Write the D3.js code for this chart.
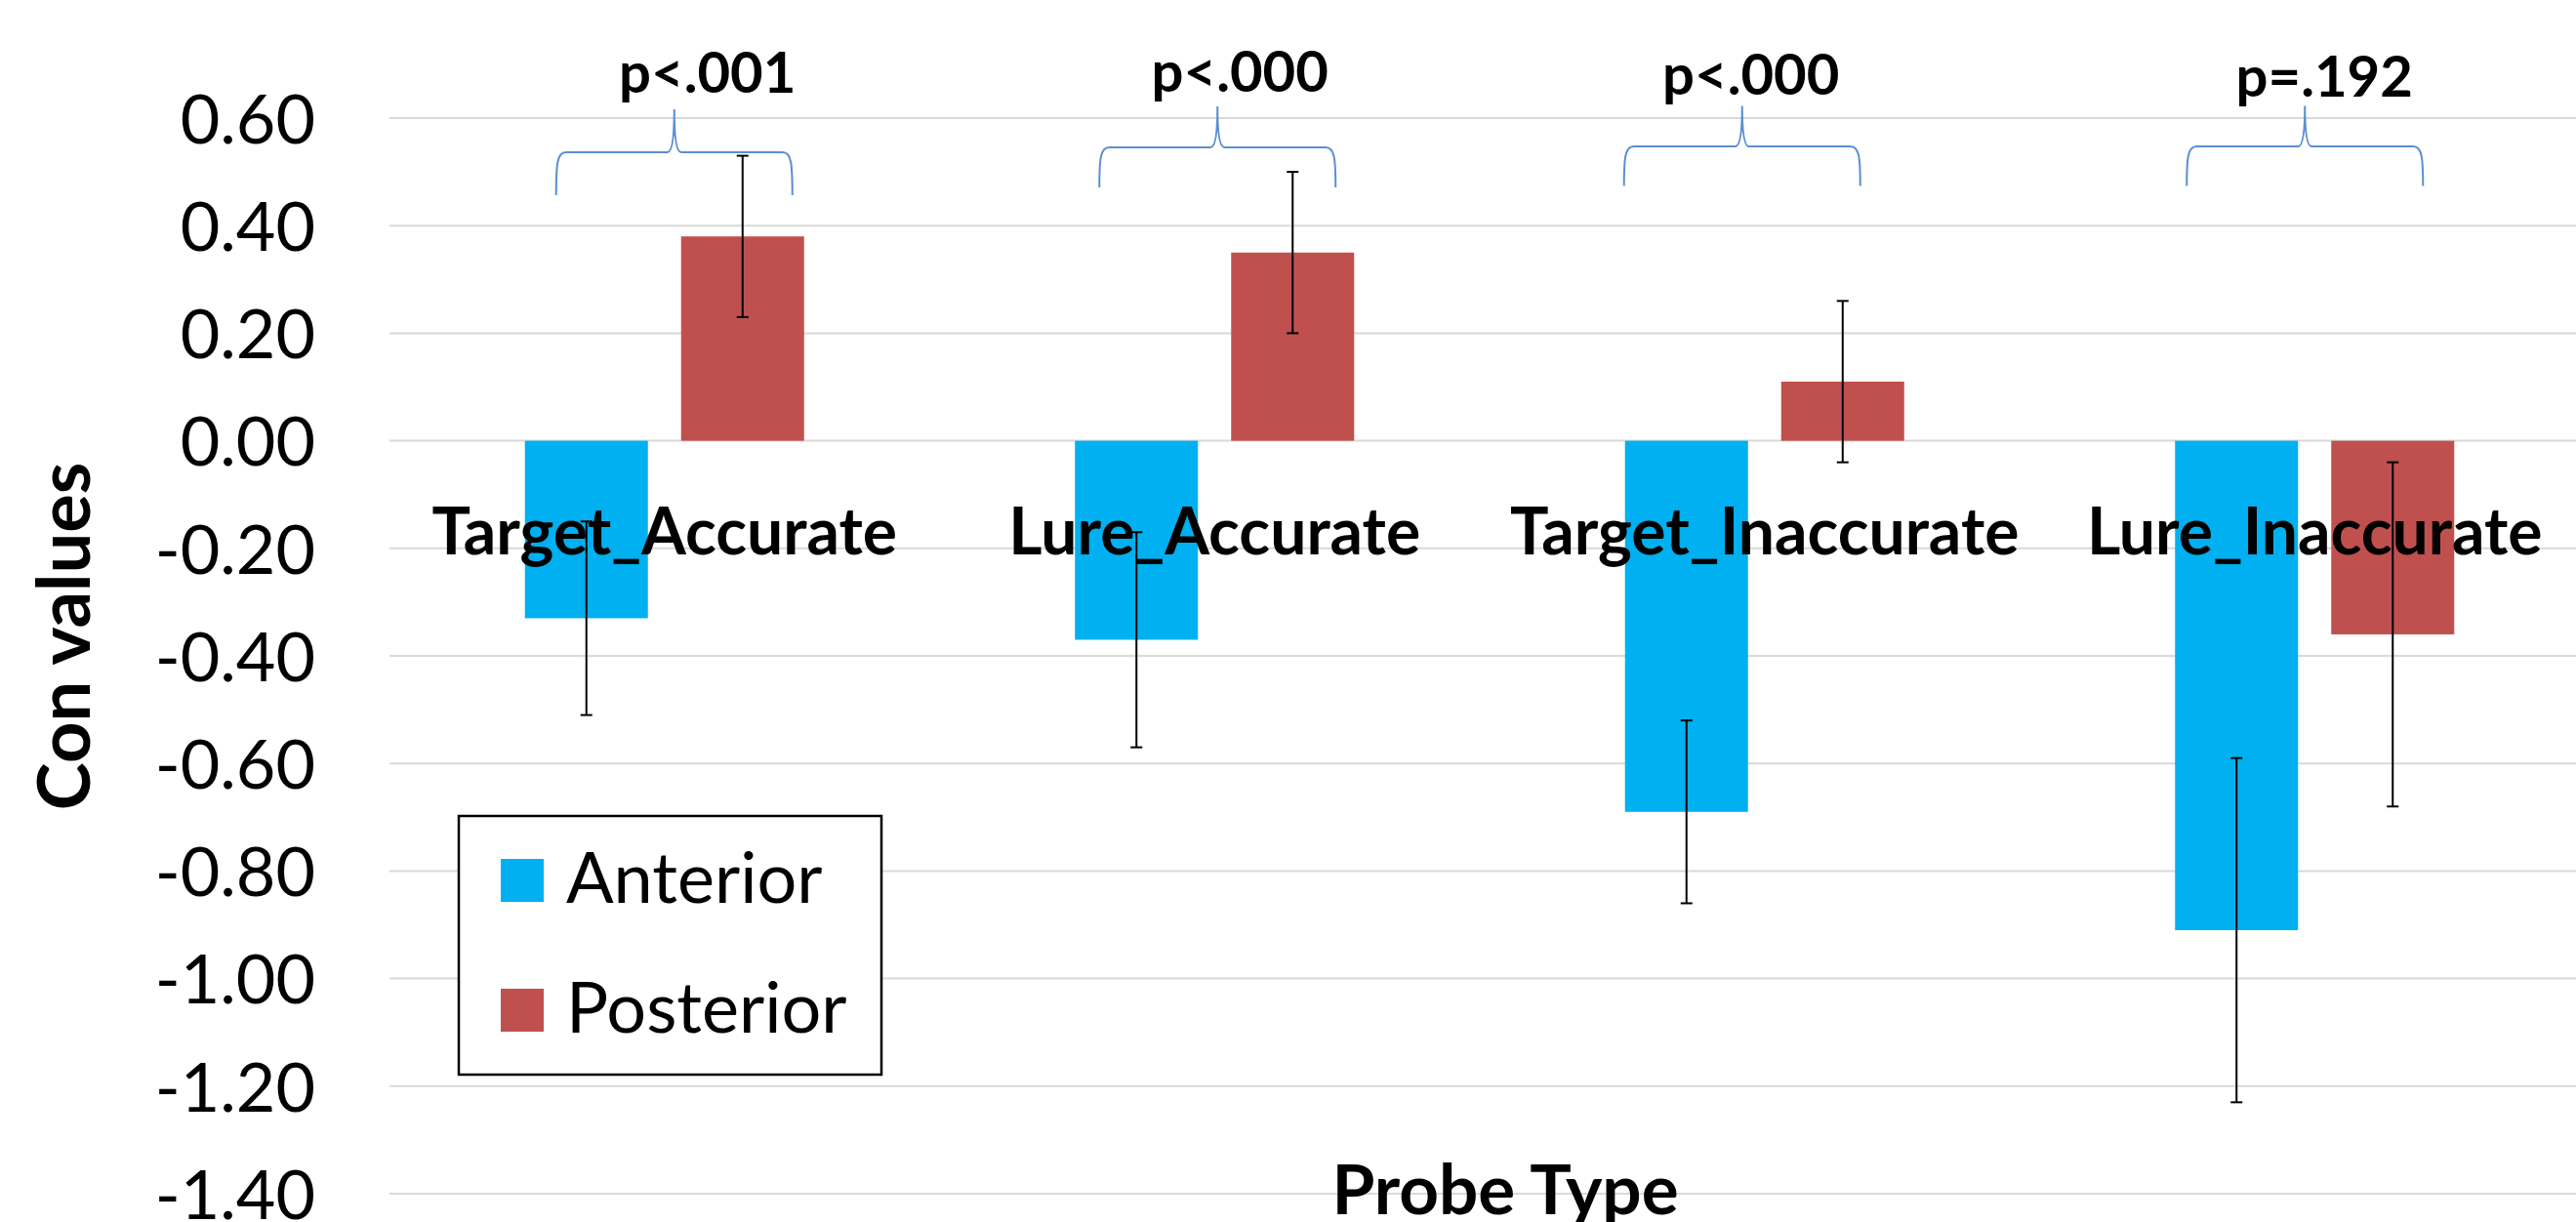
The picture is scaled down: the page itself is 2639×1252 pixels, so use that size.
<!DOCTYPE html>
<html>
<head>
<meta charset="utf-8">
<script src="https://cdn.jsdelivr.net/npm/d3@7/dist/d3.min.js"></script>
<style>
  html, body { margin: 0; padding: 0; background: #fff; }
  svg { display: block; font-family: Lato, "Open Sans", sans-serif; }
</style>
</head>
<body>
<svg id="chart" width="2639" height="1252"></svg>
<script>
// data
let categories = ["Target_Accurate", "Lure_Accurate", "Target_Inaccurate", "Lure_Inaccurate"];
let seriesNames = ["Anterior", "Posterior"];
let anterior = [-0.33, -0.37, -0.69, -0.91];
let posterior = [0.38, 0.35, 0.11, -0.36];
let anteriorErr = [0.18, 0.20, 0.17, 0.32];
let posteriorErr = [0.15, 0.15, 0.15, 0.32];
let pLabels = ["p<.001", "p<.000", "p<.000", "p=.192"];
let yTicks = [0.6, 0.4, 0.2, 0, -0.2, -0.4, -0.6, -0.8, -1.0, -1.2, -1.4];

let colors = ["#00B0F0", "#C0504D"];

// hand placed annotation nudges (braces / p-value boxes), px
let braceDx = [10, 3, -23, -10];
let braceDy = [5, 0, -1, -1];
let pLabelDx = [44, 26, -14, 10];
let pLabelY = [95, 94, 97, 99];

let margin = { top: 121, left: 399, bottom: 29 };
let svg = d3.select("#chart");
let width = +svg.attr("width");
let height = +svg.attr("height");
let plotRight = 2653;
let plotBottom = height - margin.bottom;

let x0 = d3.scaleBand()
  .domain(categories)
  .range([margin.left, plotRight])
  .padding(0);

let step = x0.step();
let outer = step * 0.2462;
let x1 = d3.scaleBand()
  .domain(seriesNames)
  .range([outer, step - outer])
  .paddingInner(0.2125)
  .paddingOuter(0);

let y = d3.scaleLinear()
  .domain([-1.4, 0.6])
  .range([plotBottom, margin.top]);

// gridlines
svg.append("g")
  .selectAll("line")
  .data(yTicks)
  .enter()
  .append("line")
  .attr("x1", margin.left)
  .attr("x2", width)
  .attr("y1", d => y(d))
  .attr("y2", d => y(d))
  .attr("stroke", "#D9D9D9")
  .attr("stroke-width", 2);

// y axis labels
let yAxis = d3.axisLeft(y).tickValues(yTicks).tickFormat(d3.format(".2f")).tickSize(0).tickPadding(0);
let yg = svg.append("g")
  .attr("transform", "translate(323,0)")
  .call(yAxis);
yg.select(".domain").remove();
yg.selectAll("text")
  .attr("font-family", "Lato")
  .attr("font-size", 70)
  .attr("fill", "#000")
  .attr("dy", "0.36em")
  .text(d => d3.format(".2f")(d).replace("−", "-"));

// rows for the bars
let rows = [];
categories.forEach((c, i) => {
  rows.push({ cat: c, s: "Anterior", v: anterior[i], e: anteriorErr[i] });
  rows.push({ cat: c, s: "Posterior", v: posterior[i], e: posteriorErr[i] });
});

svg.append("g")
  .selectAll("rect")
  .data(rows)
  .enter()
  .append("rect")
  .attr("x", d => x0(d.cat) + x1(d.s))
  .attr("width", x1.bandwidth())
  .attr("y", d => y(Math.max(0, d.v)))
  .attr("height", d => Math.abs(y(d.v) - y(0)))
  .attr("fill", d => colors[seriesNames.indexOf(d.s)]);

// category labels sit just under the zero line
svg.append("g")
  .selectAll("text")
  .data(categories)
  .enter()
  .append("text")
  .attr("x", d => x0(d) + step / 2)
  .attr("y", y(0) + 116)
  .attr("text-anchor", "middle")
  .attr("font-family", "Lato")
  .attr("font-weight", "bold")
  .attr("font-size", 66)
  .attr("fill", "#000")
  .text(d => d);

// error bars
let cap = 6;
let eg = svg.append("g").attr("stroke", "#000").attr("stroke-width", 2);
rows.forEach(d => {
  let cx = x0(d.cat) + x1(d.s) + x1.bandwidth() / 2;
  let top = y(d.v + d.e), bot = y(d.v - d.e);
  eg.append("line").attr("x1", cx).attr("x2", cx).attr("y1", top).attr("y2", bot);
  eg.append("line").attr("x1", cx - cap).attr("x2", cx + cap).attr("y1", top).attr("y2", top);
  eg.append("line").attr("x1", cx - cap).attr("x2", cx + cap).attr("y1", bot).attr("y2", bot);
});

// braces + p values
let braceHalf = 121;
categories.forEach((c, i) => {
  let cx = x0(c) + step / 2 + braceDx[i];
  let yH = 151 + braceDy[i], yE = 192 + braceDy[i] * 1.6, yT = 109 + braceDy[i] * 0.6;
  let l = cx - braceHalf, r = cx + braceHalf;
  let p = d3.path();
  p.moveTo(l, yE);
  p.bezierCurveTo(l, yH + 12, l + 1, yH, l + 10, yH);
  p.lineTo(cx - 7, yH);
  p.quadraticCurveTo(cx, yH, cx, yT);
  p.quadraticCurveTo(cx, yH, cx + 7, yH);
  p.lineTo(r - 10, yH);
  p.bezierCurveTo(r - 1, yH, r, yH + 12, r, yE);
  svg.append("path")
    .attr("d", p.toString())
    .attr("fill", "none")
    .attr("stroke", "#5B8FD2")
    .attr("stroke-width", 2);

  svg.append("text")
    .attr("x", x0(c) + step / 2 + pLabelDx[i])
    .attr("y", pLabelY[i])
    .attr("text-anchor", "middle")
    .attr("font-family", "Lato")
    .attr("font-weight", "bold")
    .attr("font-size", 58)
    .attr("fill", "#000")
    .text(pLabels[i]);
});

// axis titles
svg.append("text")
  .attr("transform", "translate(91.5,652) rotate(-90)")
  .attr("text-anchor", "middle")
  .attr("font-family", "Lato")
  .attr("font-weight", "bold")
  .attr("font-size", 74)
  .attr("fill", "#000")
  .text("Con values");

svg.append("text")
  .attr("x", 1542)
  .attr("y", 1244)
  .attr("text-anchor", "middle")
  .attr("font-family", "Lato")
  .attr("font-weight", "bold")
  .attr("font-size", 71)
  .attr("fill", "#000")
  .text("Probe Type");

// legend
let legend = svg.append("g").attr("transform", "translate(470,836)");
legend.append("rect")
  .attr("width", 433)
  .attr("height", 265)
  .attr("fill", "#fff")
  .attr("stroke", "#000")
  .attr("stroke-width", 2.5);
seriesNames.forEach((s, i) => {
  let row = legend.append("g").attr("transform", "translate(43," + (44 + i * 133) + ")");
  row.append("rect")
    .attr("width", 44)
    .attr("height", 44)
    .attr("fill", colors[i]);
  row.append("text")
    .attr("x", 67)
    .attr("y", 45)
    .attr("font-family", "Lato")
    .attr("font-size", 72)
    .attr("fill", "#000")
    .text(s);
});
</script>
</body>
</html>
